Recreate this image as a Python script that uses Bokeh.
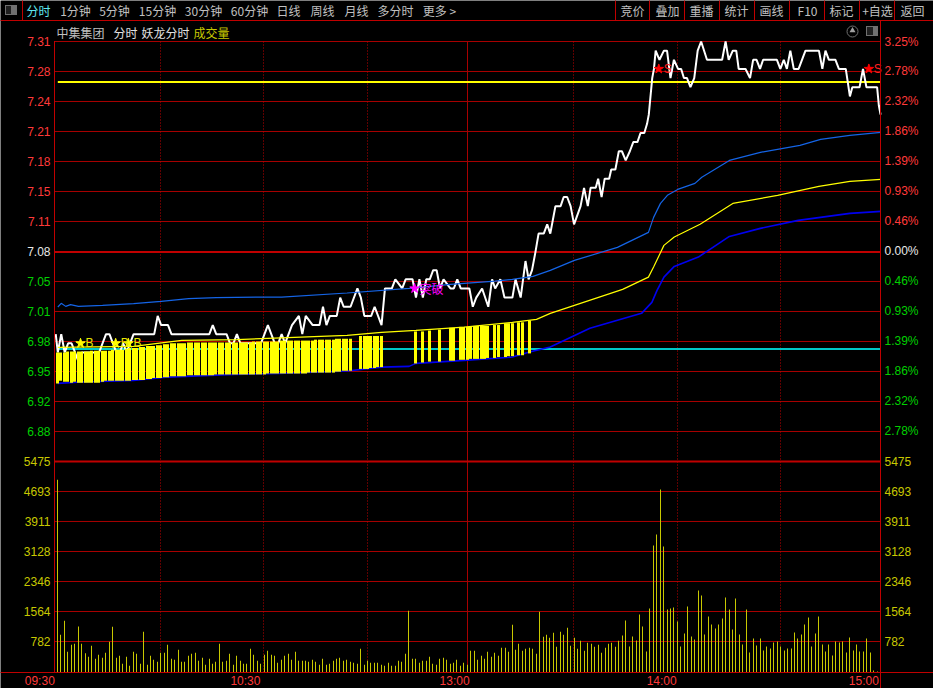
import math
from bokeh.plotting import figure
from bokeh.core.properties import value
from bokeh.models import Range1d
from bokeh.embed import file_html
from bokeh.resources import INLINE

# ---------- data ----------
price_ticks = [7.31, 7.2772, 7.2444, 7.2116, 7.1788, 7.146, 7.1132, 7.0804, 7.0476, 7.0148, 6.982, 6.9492, 6.9164, 6.8836]
price_labels = ["7.31", "7.28", "7.24", "7.21", "7.18", "7.15", "7.11", "7.08", "7.05", "7.01", "6.98", "6.95", "6.92", "6.88"]
pct_labels = ["3.25%", "2.78%", "2.32%", "1.86%", "1.39%", "0.93%", "0.46%", "0.00%", "0.46%", "0.93%", "1.39%", "1.86%", "2.32%", "2.78%"]
vol_ticks = [782, 1564, 2346, 3128, 3911, 4693, 5475]
vol_labels = ["782", "1564", "2346", "3128", "3911", "4693", "5475"]

time_minutes = [0, 60, 119, 180, 239]
time_labels = ["09:30", "10:30", "13:00", "14:00", "15:00"]
time_offsets = [-3, -4, 2, -1, -2]
half_hours = [30, 60, 90, 150, 180, 210]
noon_minute = 119

resist_price = 7.2657
support_price = 6.9738
prev_close_line = 7.0799

white_minute = [-0.6, 0, 1, 2, 3, 4, 5, 6, 7, 12, 14, 15, 17, 18, 19, 20, 22, 28, 29, 30, 32, 33, 44, 45, 46, 49, 50, 51, 52, 53, 59, 61, 63, 64, 65, 66, 68, 70, 71, 72, 74, 76, 77, 78, 79, 81, 82, 83, 85, 87, 88, 89, 91, 92, 94, 95, 97, 98, 100, 101, 103, 104, 105, 106, 107, 108, 109, 110, 111, 112, 114, 115, 116, 117,
                119.5, 120.5, 121.5, 123.2, 125, 126.1, 127, 128.5, 129.7, 132, 132.9, 134.4, 135.8, 136.7, 137.7, 138.7, 139.6, 141.1, 142.1, 143, 144, 144.5, 146, 146.9, 147.9, 148.9, 149.9, 151.8, 152.8, 153.9, 154.7, 156.2, 156.9, 157.9, 158.8, 160.1, 160.7, 161.9, 162.9, 163.8, 164.9, 166.1, 167.1, 168.3, 169.2, 170.3, 171.1, 171.6, 172.1, 172.6, 173.1, 173.6, 174.7, 176, 176.9, 177.9, 178.9, 180.1, 181, 181.8, 182.7, 183.7, 184.8, 185.8, 186.8, 188.5, 192.9, 193.9, 194.8, 196, 197, 197.7, 199.7, 201, 201.9, 202.9, 203.9, 204.8, 208.8, 209.8, 210.8, 211.7, 212.7, 213.7, 215.1, 217.1, 221, 222, 222.9, 223.9, 225.8, 226.8, 228.8, 230, 230.7, 232.8, 233.8, 234.8, 237.9, 238.4, 238.9]
white_price = [6.99, 6.97, 6.99, 6.97, 6.98, 6.98, 6.97, 6.96, 6.97, 6.97, 6.99, 6.99, 6.97, 6.97, 6.98, 6.97, 6.99, 6.99, 7.01, 7.00, 7.00, 6.99, 6.99, 7.00, 6.99, 6.99, 6.98, 6.98, 6.99, 6.98, 6.98, 7.00, 6.98, 6.98, 6.99, 6.98, 7.00, 7.01, 6.99, 7.01, 7.00, 7.00, 7.02, 7.00, 7.01, 7.01, 7.03, 7.02, 7.02, 7.04, 7.03, 7.01, 7.01, 7.02, 7.00, 7.04, 7.04, 7.05, 7.04, 7.05, 7.05, 7.03, 7.05, 7.03, 7.05, 7.05, 7.06, 7.06, 7.04, 7.05, 7.04, 7.04, 7.05, 7.04,
               7.04, 7.02, 7.03, 7.04, 7.02, 7.05, 7.04, 7.05, 7.03, 7.03, 7.05, 7.03, 7.07, 7.05, 7.06, 7.08, 7.10, 7.10, 7.11, 7.10, 7.12, 7.13, 7.13, 7.14, 7.14, 7.13, 7.11, 7.13, 7.15, 7.13, 7.15, 7.15, 7.16, 7.14, 7.16, 7.16, 7.17, 7.17, 7.19, 7.19, 7.18, 7.19, 7.20, 7.20, 7.21, 7.21, 7.22, 7.23, 7.25, 7.27, 7.28, 7.30, 7.29, 7.30, 7.30, 7.27, 7.29, 7.28, 7.28, 7.27, 7.27, 7.26, 7.27, 7.30, 7.31, 7.29, 7.29, 7.31, 7.29, 7.30, 7.30, 7.28, 7.28, 7.27, 7.29, 7.29, 7.28, 7.29, 7.29, 7.28, 7.29, 7.28, 7.30, 7.28, 7.28, 7.30, 7.30, 7.28, 7.30, 7.29, 7.29, 7.28, 7.28, 7.25, 7.26, 7.26, 7.28, 7.26, 7.26, 7.24, 7.23]

upper_minute = [0, 1, 2.3, 3.7, 6, 13, 22, 30, 38, 46, 60, 65, 84, 102, 114, 127, 132, 138, 143, 150, 162.5, 171.5, 173, 175, 177, 180, 185, 187, 195, 204, 215.5, 221.5, 230, 239]
upper_price = [7.0197, 7.0237, 7.0204, 7.0223, 7.0204, 7.0215, 7.0234, 7.0259, 7.0288, 7.0299, 7.0306, 7.0306, 7.035, 7.0401, 7.0445, 7.0481, 7.0499, 7.0532, 7.0598, 7.0707, 7.0849, 7.1013, 7.1177, 7.133, 7.1418, 7.1483, 7.1549, 7.1615, 7.18, 7.1888, 7.1964, 7.203, 7.2074, 7.2106]

middle_minute = [0, 22, 36, 52, 61, 84, 94, 104, 118, 132, 139, 143, 164, 171.5, 173, 176, 179, 186.5, 196, 209, 221, 230, 239]
middle_price = [6.9756, 6.9767, 6.9832, 6.984, 6.9854, 6.9887, 6.992, 6.9942, 6.9978, 7.0029, 7.0062, 7.0128, 7.039, 7.0524, 7.0634, 7.0871, 7.0962, 7.1101, 7.133, 7.1418, 7.1516, 7.1571, 7.1593]

lower_minute = [0, 7, 22, 32, 51, 64, 84, 94, 102, 104, 118, 132, 137, 143, 154.5, 169.5, 172.5, 174, 176, 179, 186, 195, 204, 215, 230, 239]
lower_price = [6.9362, 6.9377, 6.9395, 6.9431, 6.9461, 6.9472, 6.9497, 6.954, 6.9548, 6.9581, 6.9614, 6.965, 6.9705, 6.9759, 6.9964, 7.0128, 7.0248, 7.0379, 7.0524, 7.0641, 7.0743, 7.0969, 7.1057, 7.1144, 7.1221, 7.1243]

band_minute = list(range(0, 86)) + list(range(88, 95)) + [104, 106, 108, 111, 114, 115, 117, 118, 119, 120, 121, 122, 123, 124, 125, 127, 128, 130, 131, 132, 134, 135, 137]
band_top = [6.970, 6.970, 6.970, 6.971, 6.971, 6.971, 6.971, 6.971, 6.971, 6.971, 6.972, 6.972, 6.972, 6.972, 6.972, 6.972, 6.973, 6.973, 6.973, 6.973,
            6.974, 6.975, 6.975, 6.975, 6.976, 6.976, 6.977, 6.977, 6.977, 6.978, 6.978, 6.979, 6.979, 6.980, 6.980, 6.980, 6.980, 6.980, 6.981, 6.981,
            6.981, 6.981, 6.981, 6.981, 6.981, 6.981, 6.981, 6.981, 6.981, 6.981, 6.981, 6.981, 6.981, 6.981, 6.981, 6.981, 6.981, 6.982, 6.982, 6.982,
            6.982, 6.982, 6.982, 6.982, 6.982, 6.983, 6.983, 6.983, 6.983, 6.983, 6.983, 6.983, 6.983, 6.983, 6.983, 6.984, 6.984, 6.984, 6.984, 6.984,
            6.984, 6.985, 6.985, 6.985, 6.985, 6.985,
            6.988, 6.988, 6.988, 6.988, 6.988, 6.988, 6.988,
            6.993, 6.993, 6.994, 6.995, 6.997, 6.997, 6.998, 6.998, 6.998, 6.998, 6.999, 6.999, 6.999, 6.999, 6.999, 7.000, 7.000, 7.002, 7.002, 7.002, 7.003, 7.003, 7.005]
band_bottom = [6.936, 6.939, 6.938, 6.938, 6.937, 6.938, 6.937, 6.937, 6.937, 6.937, 6.937, 6.937, 6.937, 6.938, 6.939, 6.939, 6.939, 6.939, 6.939, 6.939,
               6.939, 6.939, 6.940, 6.940, 6.940, 6.940, 6.941, 6.941, 6.942, 6.942, 6.942, 6.943, 6.943, 6.944, 6.944, 6.944, 6.944, 6.944, 6.945, 6.945,
               6.945, 6.945, 6.945, 6.945, 6.945, 6.945, 6.946, 6.946, 6.946, 6.946, 6.946, 6.946, 6.946, 6.946, 6.946, 6.946, 6.946, 6.946, 6.946, 6.946,
               6.946, 6.947, 6.947, 6.947, 6.947, 6.947, 6.947, 6.947, 6.947, 6.947, 6.947, 6.947, 6.947, 6.948, 6.948, 6.948, 6.948, 6.948, 6.948, 6.948,
               6.948, 6.949, 6.949, 6.950, 6.950, 6.950,
               6.952, 6.952, 6.952, 6.953, 6.953, 6.954, 6.954,
               6.958, 6.959, 6.960, 6.960, 6.961, 6.961, 6.962, 6.962, 6.962, 6.963, 6.963, 6.963, 6.963, 6.963, 6.964, 6.964, 6.965, 6.965, 6.966, 6.966, 6.967, 6.967, 6.969]

volumes = [5000, 956, 1321, 513, 695, 721, 1173, 721, 478, 382, 669, 330, 435, 356, 487, 773, 1164, 356, 408, 200, 382, 148, 513, 461, 200, 1034, 174, 408, 304, 252,
           487, 487, 695, 330, 304, 565, 252, 252, 408, 461, 487, 278, 356, 174, 330, 200, 252, 721, 252, 278, 461, 174, 408, 278, 200, 200, 591, 435, 278, 200,
           435, 539, 435, 408, 226, 304, 408, 461, 304, 513, 278, 278, 278, 252,
           304, 252, 174, 330, 174, 200, 278, 330, 356, 278, 304, 252, 226, 200, 591, 174, 278, 226, 226, 226, 174, 148, 226, 148, 148, 278, 252, 461, 1582, 330, 330, 226,
           278, 278, 382, 200, 174, 330, 356, 304, 200, 226, 304, 148, 226, 174, 539, 539, 304, 408, 330, 513, 382, 487, 408, 617, 617, 513, 1217, 565, 721, 539, 591, 617,
           591, 461, 1556, 904, 956, 878, 1008, 643, 1034, 956, 1138, 669, 878, 591, 799, 539, 747, 721, 643, 695, 487, 617, 721, 747, 643, 799,
           939, 1330, 652, 912, 808, 1486, 1173, 521, 1642, 3285, 3572, 4745, 3259, 1616, 1642, 1668, 1304, 652, 991, 1695, 912, 834, 2112, 1981, 965, 1434, 1225, 1121, 1225, 1382,
           1929, 1616, 1095, 1903, 965, 704, 1616, 495, 860, 678, 860, 547, 652, 600, 756, 782, 652, 547, 600, 600, 1017, 860, 965, 1225, 1408, 652, 991, 1434, 704, 521,
           704, 417, 782, 756, 782, 495, 886, 547, 704, 521, 521, 860, 495, 26, 0, 2190]

buy_minute = [6.6, 16.8, 20.5]
buy_price = [6.98, 6.98, 6.98]
sell_minute = [174.5, 235.5]
sell_price = [7.28, 7.28]
break_minute = [103.6]
break_price = [7.04]

# chrome texts: (text, centre x)
toolbar_left = [("分时", 38), ("1分钟", 75), ("5分钟", 114), ("15分钟", 157), ("30分钟", 203), ("60分钟", 249), ("日线", 288), ("周线", 322), ("月线", 356), ("多分时", 395), ("更多 >", 439)]
toolbar_right = [("竞价", 632), ("叠加", 667), ("重播", 701), ("统计", 736), ("画线", 771), ("F10", 807), ("标记", 841), ("+自选", 877), ("返回", 912)]
toolbar_seps = [615, 649, 684, 719, 754, 789, 824, 859, 894]
title_row = [("中集集团", 80, "#c0c0c0"), ("分时", 125, "#e0e0e0"), ("妖龙分时", 165, "#e0e0e0"), ("成交量", 211, "#c8c800")]

# ---------- style and scales ----------
GRID = "#a80000"
AXIS = "#c00000"
UP = "#ff3a3a"
DOWN = "#00d000"
VOLC = "#c8c800"
GRAY = "#c0c0c0"
NUM_FONT = "Liberation Sans"
CJK_FONT = "Noto Sans CJK SC"

PX_PER_MIN = 3.44395          # minutes across the chart
X0_PX = 57.3                  # where minute 0 falls
PRICE_PER_PX = 0.00109334
VOL_PER_PX = 26.07
LEFT_PX, RIGHT_PX, TOP_PX, BOTTOM_PX = 54, 880, 41, 672
frame_left = (LEFT_PX - X0_PX) / PX_PER_MIN
frame_right = (RIGHT_PX - X0_PX) / PX_PER_MIN


def snap_edges(minutes, offset_px, width_px):
    """Whole-pixel left and right edges, in minutes, like the terminal's own bar drawing."""
    lefts, rights = [], []
    for m in minutes:
        px = round(X0_PX - 1.3 + PX_PER_MIN * m) + offset_px - 0.5
        lefts.append((px - X0_PX) / PX_PER_MIN)
        rights.append((px + width_px - X0_PX) / PX_PER_MIN)
    return lefts, rights


def snap_line(m):
    return (math.floor(X0_PX + PX_PER_MIN * m) - X0_PX) / PX_PER_MIN


p = figure(width=933, height=688, output_backend="svg", toolbar_location=None,
           x_axis_location=None, y_axis_location=None,
           x_range=Range1d(-X0_PX / PX_PER_MIN, (933 - X0_PX) / PX_PER_MIN),
           y_range=Range1d(price_ticks[0] - 647 * PRICE_PER_PX, price_ticks[0] + 41 * PRICE_PER_PX),
           min_border=0, background_fill_color="black", border_fill_color="black", outline_line_color=None)
p.grid.visible = False
p.extra_y_ranges["vol"] = Range1d(-17 * VOL_PER_PX, 671 * VOL_PER_PX)
p.extra_x_ranges["px"] = Range1d(0, 933)
p.extra_y_ranges["px"] = Range1d(688, 0)

# grid
n = len(price_ticks)
p.segment(x0=[frame_left] * n, x1=[frame_right] * n, y0=price_ticks, y1=price_ticks, line_color=GRID, line_width=1)
m = len(vol_ticks)
p.segment(x0=[frame_left] * m, x1=[frame_right] * m, y0=vol_ticks, y1=vol_ticks, y_range_name="vol", line_color=GRID, line_width=1)
v_lines = [snap_line(h) for h in half_hours]
k = len(v_lines)
p.segment(x0=v_lines, x1=v_lines, y0=[price_ticks[0]] * k, y1=[-13 * PRICE_PER_PX + price_ticks[0] - 618 * PRICE_PER_PX] * k,
          line_color=AXIS, line_width=1, line_dash="1 2")
noon = snap_line(noon_minute)
p.segment(x0=[noon], x1=[noon], y0=[price_ticks[0]], y1=[price_ticks[0] - 631 * PRICE_PER_PX], line_color=GRID, line_width=1)
p.segment(x0=[frame_left], x1=[frame_right], y0=[prev_close_line], y1=[prev_close_line], line_color=AXIS, line_width=2)
p.segment(x0=[frame_left], x1=[frame_right], y0=[5475], y1=[5475], y_range_name="vol", line_color=AXIS, line_width=2)

# volume
vol_x = list(range(len(volumes)))
v_left, v_right = snap_edges(vol_x, 1, 1)
p.quad(left=v_left, right=v_right, top=volumes, bottom=[-13] * len(volumes), y_range_name="vol", fill_color=VOLC, line_color=None)

# reference lines
p.line([0, frame_right], [resist_price, resist_price], line_color="#ffff00", line_width=2)
p.line([0, frame_right], [support_price, support_price], line_color="#00c8c8", line_width=2)

# white price below the band
p.line(white_minute, white_price, line_color="white", line_width=2)
p.line(upper_minute, upper_price, line_color="#1464e6", line_width=1.2)
p.line(middle_minute, middle_price, line_color="#ffff00", line_width=1.2)
p.line(lower_minute, lower_price, line_color="#0000f0", line_width=1.6)
b_left, b_right = snap_edges(band_minute, 0, 3)
p.quad(left=b_left, right=b_right, top=band_top, bottom=band_bottom, fill_color="#ffff00", line_color=None)

# signals
p.scatter(buy_minute, buy_price, marker="star", size=10, fill_color="#ffff00", line_color="#ffff00")
p.text(buy_minute, buy_price, text=["B"] * 3, x_offset=5, text_color="#e8e800", text_font_size="12px",
       text_baseline="middle", text_font=value(NUM_FONT))
p.scatter(sell_minute, sell_price, marker="star", size=10, fill_color="#ff0000", line_color="#ff0000")
p.text(sell_minute, sell_price, text=["S"] * 2, x_offset=5, text_color="#ff2020", text_font_size="12px",
       text_baseline="middle", text_font=value(NUM_FONT))
p.scatter(break_minute, break_price, marker="star", size=10, fill_color="#ff00ff", line_color="#ff00ff")
p.text(break_minute, break_price, text=["突破"], x_offset=5, text_color="#ff00ff", text_font_size="12px",
       text_baseline="middle", text_font=value(CJK_FONT))

# tick labels through the scales
colors = [UP] * 7 + ["#e8e8e8"] + [DOWN] * 6
p.text(x=[50] * n, y=price_ticks, x_range_name="px", text=price_labels, text_color=colors, text_align="right",
       text_baseline="middle", text_font=value(NUM_FONT), text_font_size="12px")
p.text(x=[884] * n, y=price_ticks, x_range_name="px", text=pct_labels, text_color=colors, text_align="left",
       text_baseline="middle", text_font=value(NUM_FONT), text_font_size="12px")
p.text(x=[50] * m, y=vol_ticks, x_range_name="px", y_range_name="vol", text=vol_labels, text_color=VOLC, text_align="right",
       text_baseline="middle", text_font=value(NUM_FONT), text_font_size="12px")
p.text(x=[884] * m, y=vol_ticks, x_range_name="px", y_range_name="vol", text=vol_labels, text_color=VOLC, text_align="left",
       text_baseline="middle", text_font=value(NUM_FONT), text_font_size="12px")
p.text(x=time_minutes, y=[680] * 5, y_range_name="px", text=time_labels, x_offset=time_offsets, text_color=UP,
       text_align="right", text_baseline="middle", text_font=value(NUM_FONT), text_font_size="12px")


def chrome_label(txt, x, y, color=GRAY):
    p.text(x=[x], y=[y], x_range_name="px", y_range_name="px", text=[txt], text_color=color, text_align="center",
           text_baseline="middle", text_font=value(CJK_FONT), text_font_size="12px")


def chrome_box(l, r, t, b, color=AXIS):
    p.quad(left=[l - 0.5], right=[r - 0.5], top=[t - 0.5], bottom=[b - 0.5], x_range_name="px", y_range_name="px",
           fill_color=color, line_color=None)


for i, (txt, x) in enumerate(toolbar_left):
    chrome_label(txt, x, 10, "#5fe8f0" if i == 0 else GRAY)
for txt, x in toolbar_right:
    chrome_label(txt, x, 10)
for txt, x, c in title_row:
    chrome_label(txt, x, 32, c)

chrome_box(0, 933, 20, 21)
chrome_box(22, 23, 0, 20)
for x in toolbar_seps:
    chrome_box(x, x + 1, 0, 20)
chrome_box(54, 55, 41, 672)
chrome_box(880, 881, 20, 688)
chrome_box(0, 933, 672, 673)
# small window icons
chrome_box(5, 17, 5, 15, "#707070")
chrome_box(6, 11, 6, 14, "#202020")
p.scatter([852], [31], x_range_name="px", y_range_name="px", marker="circle", size=11, fill_color=None, line_color="#707070")
p.scatter([852], [30], x_range_name="px", y_range_name="px", marker="triangle", size=6, fill_color="#a0a0a0", line_color=None)
chrome_box(866, 878, 26, 36, "#707070")
chrome_box(867, 873, 27, 35, "#202020")

p.styles = {"position": "absolute", "left": "0", "top": "0"}
open("out.html", "w").write(file_html(p, INLINE))
